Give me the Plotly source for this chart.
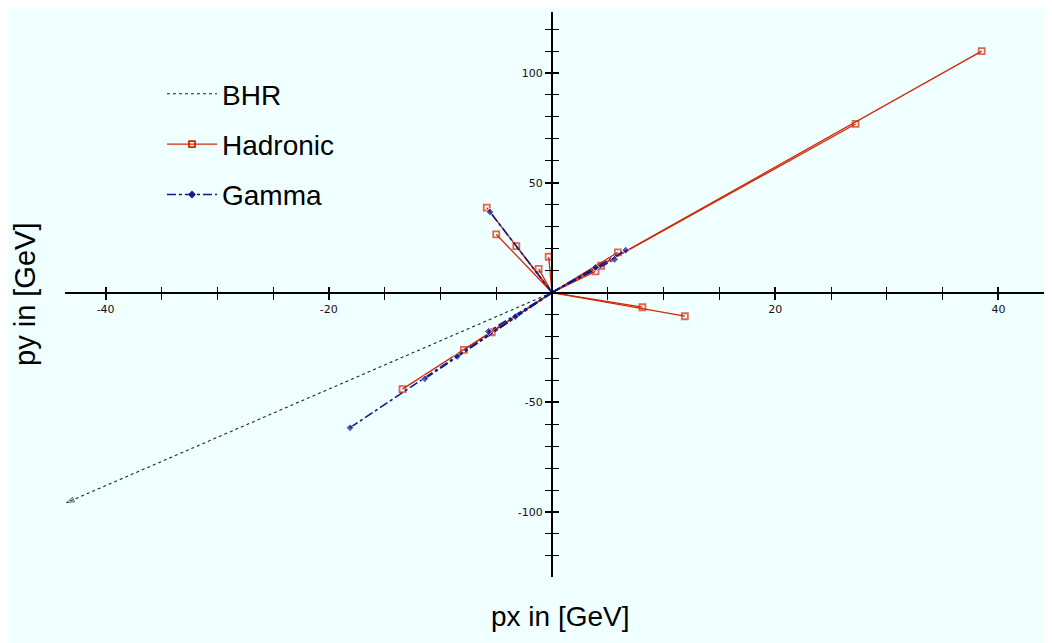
import plotly.graph_objects as go

# ---- data (endpoints of momentum vectors, in GeV) ----
bhr_px = [-43.5]
bhr_py = [-95.7]

had_px = [38.5, 27.2, 11.9, 8.1, -5.85, -5.0, -3.2, -1.2, -0.3, 5.9, 4.4, 3.9, -13.4, -7.9, -5.4]
had_py = [110.0, 76.8, -10.8, -6.7, 38.7, 26.5, 21.1, 10.8, 16.3, 18.3, 12.2, 9.6, -44.0, -26.1, -18.1]

gam_px = [-5.56, 6.6, 5.6, 3.9, -5.7, -8.5, -11.4, -18.1, -3.3]
gam_py = [36.7, 19.3, 15.1, 11.5, -17.8, -29.2, -39.3, -61.6, -11.0]

x_major = [-40, -20, 20, 40]
y_major = [-100, -50, 50, 100]

X_RANGE = [-43.64, 44.62]
Y_RANGE = [-129.6, 127.8]

RED = "#d02808"
BLUE = "#0c1a8e"
BLACK = "#222222"
BG = "#f0ffff"


def vectors(px, py, size):
    xs, ys, ss = [], [], []
    for a, b in zip(px, py):
        xs += [0, a, None]
        ys += [0, b, None]
        ss += [0, size, 0]
    return xs, ys, ss


fig = go.Figure()

styles = [
    ("BHR", bhr_px, bhr_py, dict(color=BLACK, width=1.1, dash="dot"),
     dict(symbol="arrow-open", angleref="previous", color=BLACK, line=dict(width=1, color=BLACK)), 8, "a"),
    ("Hadronic", had_px, had_py, dict(color=RED, width=1.3),
     dict(symbol="square-open", color=RED, line=dict(width=1.8, color=RED)), 6, "b"),
    ("Gamma", gam_px, gam_py, dict(color=BLUE, width=1.6, dash="dashdot"),
     dict(symbol="diamond", color=BLUE), 6, "c"),
]

for name, px, py, line, marker, size, grp in styles:
    x, y, s = vectors(px, py, size)
    fig.add_trace(go.Scatter(x=x, y=y, mode="lines+markers", name=name, legendgroup=grp,
                             showlegend=False, line=line, marker=dict(marker, size=s)))

# legend entries
for name, px, py, line, marker, size, grp in styles:
    lm = dict(marker)
    lm.pop("angleref", None)
    if name == "BHR":
        fig.add_trace(go.Scatter(x=[None], y=[None], mode="lines", name=name, legendgroup=grp,
                                 line=line))
    else:
        fig.add_trace(go.Scatter(x=[None], y=[None], mode="lines+markers", name=name,
                                 legendgroup=grp, line=line, marker=dict(lm, size=size)))

# positions of the crossing axes (paper fractions)
x_pos = (0 - Y_RANGE[0]) / (Y_RANGE[1] - Y_RANGE[0])
y_pos = (0 - X_RANGE[0]) / (X_RANGE[1] - X_RANGE[0])

x_minor = [v for v in range(-40, 45, 5) if v not in x_major]
y_minor = [v for v in range(-120, 130, 10) if v not in y_major]

tickfont = dict(family="DejaVu Sans, sans-serif", size=11, color="#111111")

common_x = dict(range=X_RANGE, showgrid=False, zeroline=False, anchor="free",
                position=x_pos, tickmode="array", tickvals=x_major,
                ticklen=6, tickwidth=2, tickcolor="black", fixedrange=True,
                minor=dict(tickmode="array", tickvals=x_minor, ticklen=6,
                           tickwidth=1.2, tickcolor="black"))
common_y = dict(range=Y_RANGE, showgrid=False, zeroline=False, anchor="free",
                position=y_pos, tickmode="array", tickvals=y_major,
                ticklen=6, tickwidth=2, tickcolor="black", fixedrange=True,
                minor=dict(tickmode="array", tickvals=y_minor, ticklen=6,
                           tickwidth=1.2, tickcolor="black"))

xa = dict(common_x)
xa.update(ticks="outside", showline=True, linecolor="black", linewidth=2,
          tickfont=tickfont, ticktext=[str(v) for v in x_major])
xa["minor"] = dict(common_x["minor"], ticks="outside")
xa2 = dict(common_x)
xa2.update(ticks="inside", showline=False, showticklabels=False, overlaying="x")
xa2["minor"] = dict(common_x["minor"], ticks="inside")

ya = dict(common_y)
ya.update(ticks="outside", showline=True, linecolor="black", linewidth=2,
          tickfont=tickfont, ticktext=[str(v) for v in y_major])
ya["minor"] = dict(common_y["minor"], ticks="outside")
ya2 = dict(common_y)
ya2.update(ticks="inside", showline=False, showticklabels=False, overlaying="y")
ya2["minor"] = dict(common_y["minor"], ticks="inside")

# invisible trace to activate the overlay axes
fig.add_trace(go.Scatter(x=[None], y=[None], xaxis="x2", yaxis="y2",
                         showlegend=False, hoverinfo="skip"))

OFF = 8  # page body margin
W, H = 1044, 635
L, R, T, B = 57, 2, 4, 66
pw, ph = W - L - R, H - T - B


def px2x(p):
    return (p - OFF - L) / pw


def py2y(p):
    return (H - B - (p - OFF)) / ph


FONT = "Liberation Sans, Arial, sans-serif"

fig.update_layout(
    width=W, height=H,
    margin=dict(l=L, r=R, t=T, b=B),
    paper_bgcolor=BG,
    plot_bgcolor=BG,
    xaxis=xa, xaxis2=xa2, yaxis=ya, yaxis2=ya2,
    font=dict(family=FONT, color="black"),
    legend=dict(x=px2x(162), y=py2y(69), xanchor="left", yanchor="top",
                bgcolor="rgba(0,0,0,0)", font=dict(size=28, family=FONT),
                tracegroupgap=11, traceorder="grouped", itemwidth=50),
    annotations=[
        dict(text="px in [GeV]", xref="paper", yref="paper", x=px2x(560), y=py2y(616),
             showarrow=False, font=dict(size=28, family=FONT),
             xanchor="center", yanchor="middle"),
        dict(text="py in [GeV]", xref="paper", yref="paper", x=px2x(25), y=py2y(295),
             showarrow=False, textangle=-90, font=dict(size=29, family=FONT),
             xanchor="center", yanchor="middle"),
    ],
)

fig.write_html("out.html")
